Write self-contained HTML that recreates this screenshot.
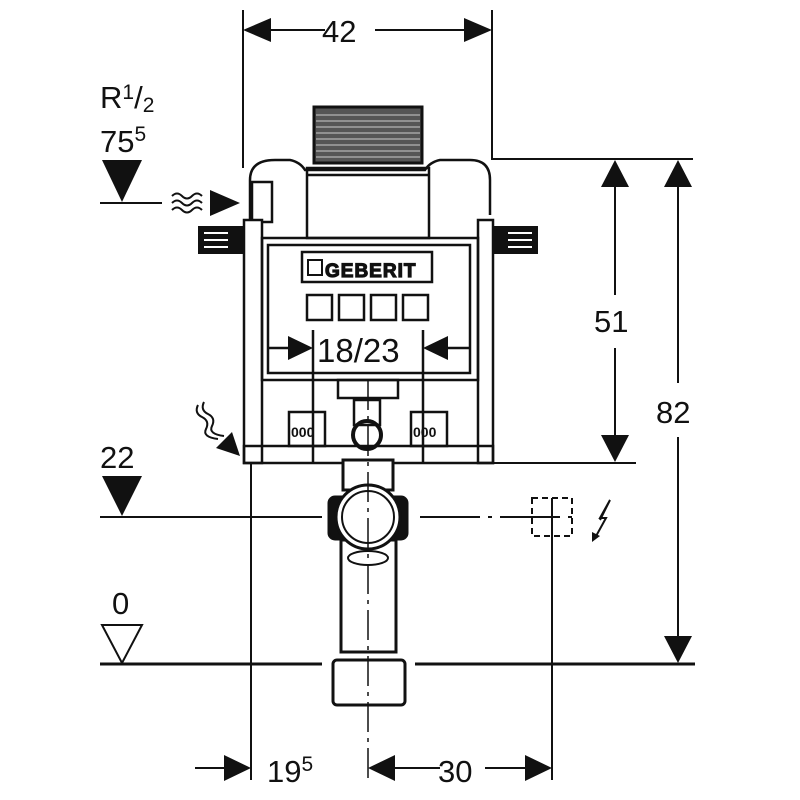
<!DOCTYPE html>
<html><head><style>body{margin:0;background:#fff}svg{display:block}text{font-family:"Liberation Sans",sans-serif;fill:#111}</style></head>
<body>
<svg width="800" height="800" viewBox="0 0 800 800" xmlns="http://www.w3.org/2000/svg">
<g stroke="#111" stroke-width="2" fill="none">
<line x1="243" y1="10" x2="243" y2="168"/>
<line x1="492" y1="10" x2="492" y2="160"/>
<line x1="492" y1="159" x2="693" y2="159"/>
<line x1="492" y1="463" x2="636" y2="463"/>
<line x1="615" y1="185" x2="615" y2="295"/>
<line x1="615" y1="348" x2="615" y2="437"/>
<line x1="678" y1="185" x2="678" y2="383"/>
<line x1="678" y1="437" x2="678" y2="637"/>
<line x1="270" y1="30" x2="325" y2="30"/>
<line x1="375" y1="30" x2="465" y2="30"/>
<line x1="100" y1="664" x2="322" y2="664" stroke-width="3"/>
<line x1="415" y1="664" x2="695" y2="664" stroke-width="3"/>
<line x1="100" y1="203" x2="162" y2="203"/>
<line x1="100" y1="517" x2="322" y2="517"/>
<line x1="420" y1="517" x2="580" y2="517" stroke-dasharray="60 8 4 8"/>
<line x1="251" y1="463" x2="251" y2="780"/>
<line x1="552" y1="500" x2="552" y2="780"/>
<line x1="195" y1="768" x2="225" y2="768"/>
<line x1="395" y1="768" x2="440" y2="768"/>
<line x1="485" y1="768" x2="525" y2="768"/>
</g>
<g fill="#111">
<polygon points="243,30 271,18 271,42"/>
<polygon points="492,30 464,18 464,42"/>
<polygon points="615,160 601,187 629,187"/>
<polygon points="615,462 601,435 629,435"/>
<polygon points="678,160 664,187 692,187"/>
<polygon points="678,663 664,636 692,636"/>
<polygon points="251,768 224,755 224,781"/>
<polygon points="368,768 395,755 395,781"/>
<polygon points="552,768 525,755 525,781"/>
<polygon points="102,160 142,160 122,202"/>
<polygon points="102,476 142,476 122,516"/>
<polygon points="210,190 240,203 210,216"/>
</g>
<polygon points="102,625 142,625 122,663" fill="none" stroke="#111" stroke-width="2"/>
<g font-size="31">
<text x="322" y="42">42</text>
<text x="594" y="332">51</text>
<text x="656" y="423">82</text>
<text x="100" y="108">R<tspan font-size="21" dy="-9">1</tspan><tspan dy="9">/</tspan><tspan font-size="21" dy="4">2</tspan></text>
<text x="100" y="152">75<tspan font-size="21" dy="-11">5</tspan></text>
<text x="100" y="468">22</text>
<text x="112" y="614">0</text>
<text x="267" y="782">19<tspan font-size="21" dy="-11">5</tspan></text>
<text x="438" y="782">30</text>
<text x="317" y="362" font-size="33">18/23</text>
</g>
<g stroke="#111" stroke-width="2" fill="none">
<path d="M172,196 q5,-5 10,0 t10,0 t10,0"/>
<path d="M172,203 q5,-5 10,0 t10,0 t10,0"/>
<path d="M172,210 q5,-5 10,0 t10,0 t10,0"/>
<path d="M198,405 q-4,8 4,12 t4,12 t12,10"/>
<path d="M204,402 q-4,8 4,12 t4,12 t12,10"/>
</g>
<polygon points="240,456 216,448 232,432" fill="#111"/>
<rect x="314" y="107" width="108" height="56" fill="#555" stroke="#111" stroke-width="3"/>
<g stroke="#ccc" stroke-width="1">
<line x1="316" y1="115" x2="420" y2="115"/><line x1="316" y1="121" x2="420" y2="121"/><line x1="316" y1="127" x2="420" y2="127"/><line x1="316" y1="133" x2="420" y2="133"/><line x1="316" y1="139" x2="420" y2="139"/><line x1="316" y1="145" x2="420" y2="145"/><line x1="316" y1="151" x2="420" y2="151"/><line x1="316" y1="157" x2="420" y2="157"/>
</g>
<g stroke="#111" stroke-width="2.5" fill="none">
<path d="M250,220 L250,180 Q250,160 275,160 L290,160 Q300,162 305,170 L425,170 Q430,162 440,160 L470,160 Q490,160 490,180 L490,215"/>
<rect x="307" y="168" width="122" height="70"/>
<line x1="307" y1="175" x2="429" y2="175"/>
<rect x="252" y="182" width="20" height="40" fill="#fff"/>
<rect x="244" y="220" width="18" height="243" fill="#fff"/>
<rect x="478" y="220" width="15" height="243" fill="#fff"/>
<rect x="262" y="238" width="216" height="142"/>
<rect x="268" y="245" width="202" height="128"/>
<rect x="302" y="252" width="130" height="30"/>
<rect x="307" y="295" width="25" height="25"/><rect x="339" y="295" width="25" height="25"/><rect x="371" y="295" width="25" height="25"/><rect x="403" y="295" width="25" height="25"/>
<line x1="268" y1="348" x2="290" y2="348"/><line x1="448" y1="348" x2="470" y2="348"/>
<line x1="313" y1="330" x2="313" y2="462"/><line x1="423" y1="330" x2="423" y2="462"/>
<rect x="338" y="380" width="60" height="18"/>
<rect x="289" y="412" width="36" height="34"/><rect x="411" y="412" width="36" height="34"/>
<rect x="244" y="446" width="249" height="17"/>
<circle cx="367" cy="435" r="14" stroke-width="4"/>
<rect x="354" y="400" width="26" height="25"/>
</g>
<polygon points="313,348 288,336 288,360" fill="#111"/>
<polygon points="423,348 448,336 448,360" fill="#111"/>
<rect x="308" y="260" width="14" height="15" fill="none" stroke="#111" stroke-width="2"/>
<text x="325" y="277" font-size="19" font-weight="bold" fill="#fff" stroke="#111" stroke-width="1.2" letter-spacing="1">GEBERIT</text>
<text x="291" y="437" font-size="14" font-weight="bold">000</text><text x="413" y="437" font-size="14" font-weight="bold">000</text>
<rect x="198" y="226" width="46" height="28" fill="#111"/>
<g stroke="#fff" stroke-width="2"><line x1="204" y1="233" x2="228" y2="233"/><line x1="204" y1="240" x2="228" y2="240"/><line x1="204" y1="247" x2="228" y2="247"/></g>
<rect x="493" y="226" width="45" height="28" fill="#111"/>
<g stroke="#fff" stroke-width="2"><line x1="508" y1="233" x2="532" y2="233"/><line x1="508" y1="240" x2="532" y2="240"/><line x1="508" y1="247" x2="532" y2="247"/></g>
<g stroke="#111" stroke-width="3" fill="#fff">
<rect x="343" y="460" width="50" height="30"/>
<rect x="341" y="540" width="55" height="112"/>
<rect x="329" y="497" width="78" height="42" rx="6" fill="#111"/>
<circle cx="368" cy="517" r="32" fill="#fff"/>
<circle cx="368" cy="517" r="26" fill="#fff" stroke-width="2"/>
<ellipse cx="368" cy="558" rx="20" ry="7" stroke-width="2"/>
<rect x="333" y="660" width="72" height="45" rx="4"/>
</g>
<line x1="368" y1="380" x2="368" y2="780" stroke="#111" stroke-width="1.5" stroke-dasharray="30 6 4 6"/>
<rect x="532" y="498" width="40" height="38" fill="none" stroke="#111" stroke-width="2" stroke-dasharray="6 4"/>
<line x1="552" y1="498" x2="552" y2="540" stroke="#111" stroke-width="2"/>
<path d="M600,520 L610,500 L600,518 L606,518 L595,538" stroke="#111" stroke-width="2" fill="none"/>
<polygon points="592,542 592,532 600,536" fill="#111"/>
</svg>
</body></html>
